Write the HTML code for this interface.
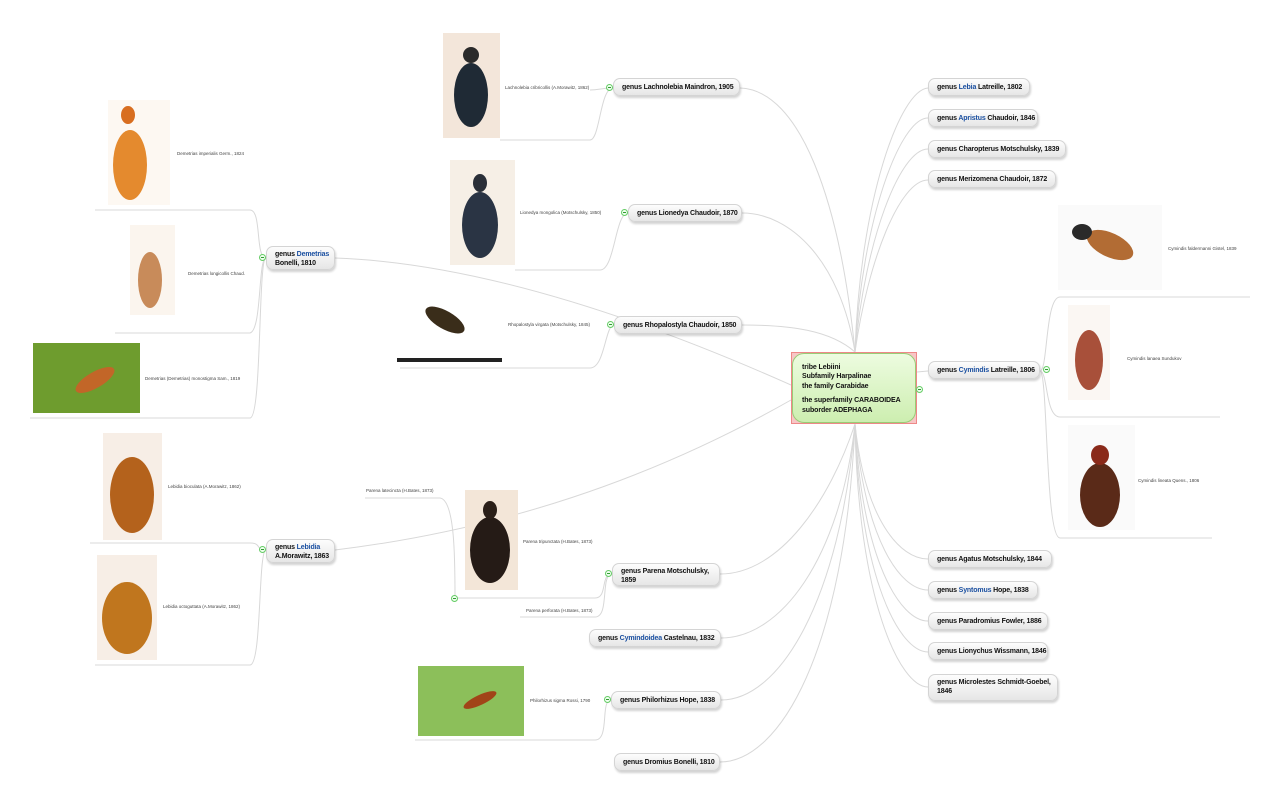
<!DOCTYPE html>
<html><head><meta charset="utf-8"><style>
body{margin:0;width:1280px;height:800px;background:#fff;position:relative;overflow:hidden;font-family:"Liberation Sans",sans-serif}
.n{position:absolute;height:18px;border:1px solid #d4d4d4;border-radius:7px;background:linear-gradient(#fdfdfd,#e6e6e6);box-shadow:1px 2px 2px rgba(0,0,0,.18);font-size:7px;letter-spacing:-0.15px;font-weight:bold;color:#111;line-height:18px;padding-left:8px;box-sizing:border-box;white-space:nowrap;overflow:hidden}
.n.t{height:auto;line-height:9px;padding:3px 8px}
.b{color:#1a4fa0}
.l{position:absolute;font-size:4.5px;color:#444;white-space:nowrap}
.c{position:absolute;width:7px;height:7px;border:1px solid #6c6;border-radius:50%;background:#efe;box-sizing:border-box}
.c:after{content:"";position:absolute;left:1px;top:2px;width:3px;height:1px;background:#393}
svg{position:absolute;left:0;top:0}
</style></head><body>
<svg width="1280" height="800">
<g fill="none" stroke="#d8d8d8" stroke-width="1">
<path d="M855 352 C860 200 900 90 928 88"/>
<path d="M855 352 C862 220 900 118 928 118"/>
<path d="M855 352 C865 240 900 149 928 149"/>
<path d="M855 352 C868 260 900 180 928 180"/>
<path d="M917 372 L928 371"/>
<path d="M855 424 C865 520 900 559 928 559"/>
<path d="M855 424 C865 540 900 590 928 590"/>
<path d="M855 424 C862 560 900 621 928 621"/>
<path d="M855 424 C860 580 900 652 928 652"/>
<path d="M855 424 C858 600 900 687 928 687"/>
<path d="M855 352 C840 200 800 90 740 88"/>
<path d="M855 352 C840 260 790 213 742 213"/>
<path d="M855 352 C830 330 790 325 742 325"/>
<path d="M791 385 C600 300 450 262 335 258"/>
<path d="M791 400 C650 480 500 530 335 550"/>
<path d="M855 424 C830 500 780 574 720 574"/>
<path d="M855 424 C840 560 780 638 721 638"/>
<path d="M855 424 C840 600 780 700 721 700"/>
<path d="M855 424 C845 650 780 762 720 762"/>
<path d="M613 88 C600 88 600 140 590 140 L500 140 M613 88 C600 88 600 90 590 90"/>
<path d="M628 213 C615 213 615 270 600 270 L515 270"/>
<path d="M614 325 C605 325 605 368 590 368 L400 368"/>
<path d="M266 258 C255 258 262 210 250 210 L95 210 M266 258 C258 258 262 330 250 333 L115 333 M266 258 C258 258 262 418 250 418 L30 418"/>
<path d="M266 550 C255 550 262 543 250 543 L90 543 M266 550 C258 550 262 665 250 665 L95 665"/>
<path d="M612 574 C600 574 608 598 595 598 L455 598 M455 598 C455 560 455 500 440 498 L365 498 M612 574 C600 574 610 617 595 617 L520 617"/>
<path d="M611 700 C600 700 610 740 595 740 L415 740"/>
<path d="M1040 371 C1048 371 1045 297 1060 297 L1250 297 M1040 371 C1048 371 1045 417 1060 417 L1220 417 M1040 371 C1048 371 1045 538 1060 538 L1212 538"/>
</g>
<g>
<rect x="443" y="33" width="57" height="105" fill="#f3e6da"/><ellipse cx="471" cy="95" rx="17" ry="32" fill="#1f2a35"/><ellipse cx="471" cy="55" rx="8" ry="8" fill="#2a2a2a"/>
<rect x="450" y="160" width="65" height="105" fill="#f6efe6"/><ellipse cx="480" cy="225" rx="18" ry="33" fill="#2a3444"/><ellipse cx="480" cy="183" rx="7" ry="9" fill="#2a2f38"/>
<rect x="397" y="288" width="105" height="74" fill="#fff"/><ellipse cx="445" cy="320" rx="22" ry="9" fill="#3a2d1a" transform="rotate(30 445 320)"/><rect x="397" y="358" width="105" height="4" fill="#222"/>
<rect x="108" y="100" width="62" height="105" fill="#fdf8f2"/><ellipse cx="130" cy="165" rx="17" ry="35" fill="#e48a2e"/><ellipse cx="128" cy="115" rx="7" ry="9" fill="#d86e20"/>
<rect x="130" y="225" width="45" height="90" fill="#fbf5ee"/><ellipse cx="150" cy="280" rx="12" ry="28" fill="#c88b5a"/>
<rect x="33" y="343" width="107" height="70" fill="#6e9c2e"/><ellipse cx="95" cy="380" rx="22" ry="8" fill="#c26628" transform="rotate(-30 95 380)"/>
<rect x="103" y="433" width="59" height="107" fill="#f7eee6"/><ellipse cx="132" cy="495" rx="22" ry="38" fill="#b4621c"/>
<rect x="97" y="555" width="60" height="105" fill="#f7eee6"/><ellipse cx="127" cy="618" rx="25" ry="36" fill="#c0761e"/>
<rect x="465" y="490" width="53" height="100" fill="#f3e6d8"/><ellipse cx="490" cy="550" rx="20" ry="33" fill="#251b16"/><ellipse cx="490" cy="510" rx="7" ry="9" fill="#2a1f18"/>
<rect x="418" y="666" width="106" height="70" fill="#8cbf5a"/><ellipse cx="480" cy="700" rx="18" ry="5" fill="#a14418" transform="rotate(-25 480 700)"/>
<rect x="1058" y="205" width="104" height="85" fill="#fafafa"/><ellipse cx="1110" cy="245" rx="25" ry="12" fill="#b26c34" transform="rotate(25 1110 245)"/><ellipse cx="1082" cy="232" rx="10" ry="8" fill="#2a2a2a"/>
<rect x="1068" y="305" width="42" height="95" fill="#fbf7f3"/><ellipse cx="1089" cy="360" rx="14" ry="30" fill="#a8503a"/>
<rect x="1068" y="425" width="67" height="105" fill="#fafafa"/><ellipse cx="1100" cy="495" rx="20" ry="32" fill="#5a2a18"/><ellipse cx="1100" cy="455" rx="9" ry="10" fill="#8a2a1a"/>
</g>
</svg>
<div style="position:absolute;left:791px;top:352px;width:126px;height:72px;background:#f7c6c6;border:1px solid #e88;box-sizing:border-box"></div>
<div style="position:absolute;left:792px;top:353px;width:124px;height:70px;background:linear-gradient(#edfce0,#cdeeb0);border:1px solid #9c7;border-radius:12px;box-sizing:border-box;font-size:7px;letter-spacing:-0.1px;white-space:nowrap;font-weight:bold;color:#111;padding:9px 0 0 9px;line-height:9px">tribe Lebiini<br>Subfamily Harpalinae<br><div style="margin-top:1px">the family Carabidae</div><div style="margin-top:5px">the superfamily CARABOIDEA</div><div style="margin-top:1px">suborder ADEPHAGA</div></div>
<div class="c" style="left:916px;top:386px"></div>
<div class="n" style="left:928px;top:78px;width:102px">genus <span class="b">Lebia</span> Latreille, 1802</div>
<div class="n" style="left:928px;top:109px;width:110px">genus <span class="b">Apristus</span> Chaudoir, 1846</div>
<div class="n" style="left:928px;top:140px;width:138px">genus Charopterus Motschulsky, 1839</div>
<div class="n" style="left:928px;top:170px;width:128px">genus Merizomena Chaudoir, 1872</div>
<div class="n" style="left:928px;top:361px;width:112px">genus <span class="b">Cymindis</span> Latreille, 1806</div>
<div class="c" style="left:1043px;top:366px"></div>
<div class="n" style="left:928px;top:550px;width:124px">genus Agatus Motschulsky, 1844</div>
<div class="n" style="left:928px;top:581px;width:110px">genus <span class="b">Syntomus</span> Hope, 1838</div>
<div class="n" style="left:928px;top:612px;width:120px">genus Paradromius Fowler, 1886</div>
<div class="n" style="left:928px;top:642px;width:120px">genus Lionychus Wissmann, 1846</div>
<div class="n t" style="left:928px;top:674px;width:130px;height:27px">genus Microlestes Schmidt-Goebel,<br>1846</div>
<div class="n" style="left:613px;top:78px;width:127px">genus Lachnolebia Maindron, 1905</div>
<div class="c" style="left:606px;top:84px"></div>
<div class="n" style="left:628px;top:204px;width:114px">genus Lionedya Chaudoir, 1870</div>
<div class="c" style="left:621px;top:209px"></div>
<div class="n" style="left:614px;top:316px;width:128px">genus Rhopalostyla Chaudoir, 1850</div>
<div class="c" style="left:607px;top:321px"></div>
<div class="n t" style="left:266px;top:246px;width:69px;height:24px">genus <span class="b">Demetrias</span><br>Bonelli, 1810</div>
<div class="c" style="left:259px;top:254px"></div>
<div class="n t" style="left:266px;top:539px;width:69px;height:24px">genus <span class="b">Lebidia</span><br>A.Morawitz, 1863</div>
<div class="c" style="left:259px;top:546px"></div>
<div class="n t" style="left:612px;top:563px;width:108px;height:23px">genus Parena Motschulsky,<br>1859</div>
<div class="c" style="left:605px;top:570px"></div>
<div class="c" style="left:451px;top:595px"></div>
<div class="n" style="left:589px;top:629px;width:132px">genus <span class="b">Cymindoidea</span> Castelnau, 1832</div>
<div class="n" style="left:611px;top:691px;width:110px">genus Philorhizus Hope, 1838</div>
<div class="c" style="left:604px;top:696px"></div>
<div class="n" style="left:614px;top:753px;width:106px">genus Dromius Bonelli, 1810</div>
<div class="l" style="left:505px;top:85px">Lachnolebia cribricollis (A.Morawitz, 1862)</div>
<div class="l" style="left:520px;top:210px">Lionedya mongolica (Motschulsky, 1850)</div>
<div class="l" style="left:508px;top:322px">Rhopalostyla virgata (Motschulsky, 1845)</div>
<div class="l" style="left:177px;top:151px">Demetrias imperialis Germ., 1824</div>
<div class="l" style="left:188px;top:271px">Demetrias longicollis Chaud.</div>
<div class="l" style="left:145px;top:376px">Demetrias (Demetrias) monostigma Sam., 1819</div>
<div class="l" style="left:168px;top:484px">Lebidia bioculata (A.Morawitz, 1862)</div>
<div class="l" style="left:163px;top:604px">Lebidia octoguttata (A.Morawitz, 1862)</div>
<div class="l" style="left:366px;top:488px">Parena latecincta (H.Bates, 1873)</div>
<div class="l" style="left:523px;top:539px">Parena tripunctata (H.Bates, 1873)</div>
<div class="l" style="left:526px;top:608px">Parena perforata (H.Bates, 1873)</div>
<div class="l" style="left:530px;top:698px">Philorhizus sigma Rossi, 1790</div>
<div class="l" style="left:1168px;top:246px">Cymindis faldermanni Gistel, 1839</div>
<div class="l" style="left:1127px;top:356px">Cymindis lanaea Sundukov</div>
<div class="l" style="left:1138px;top:478px">Cymindis lineata Quens., 1806</div>
</body></html>
